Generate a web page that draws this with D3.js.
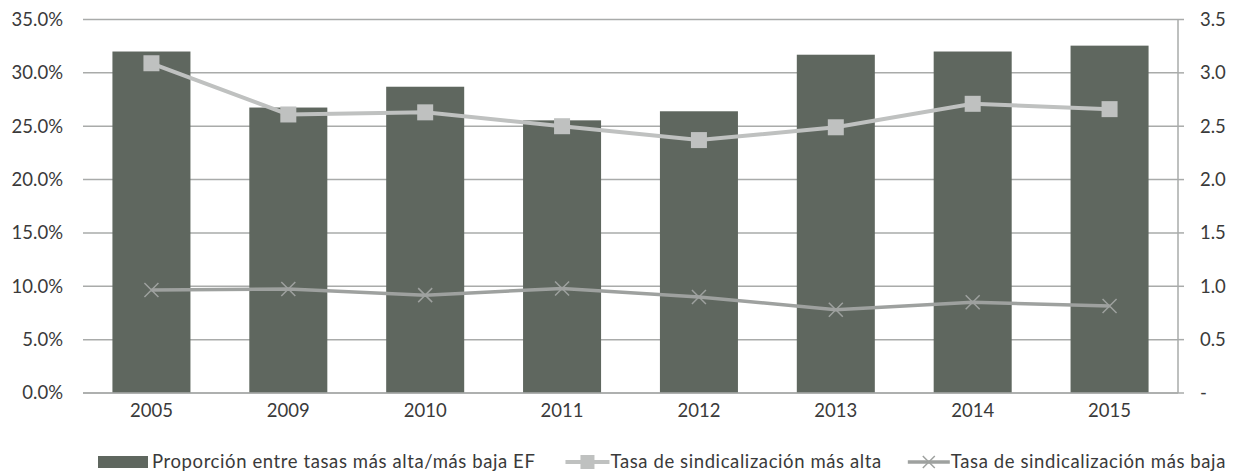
<!DOCTYPE html>
<meta charset="utf-8">
<script src="https://d3js.org/d3.v7.min.js"></script>
<style>
  body { margin: 0; background: #fff; }
  text { font-family: Lato, sans-serif; fill: #3a3a3a; font-size: 18.5px; }
  .legend text { letter-spacing: 0.6px; }
</style>
<div id="chart"></div>
<script>
// data
var years = ["2005", "2009", "2010", "2011", "2012", "2013", "2014", "2015"];
var proporcion = [32.0, 26.75, 28.7, 25.55, 26.4, 31.7, 32.0, 32.55];   // % (left axis)
var tasaAlta = [3.09, 2.61, 2.63, 2.50, 2.37, 2.49, 2.71, 2.66];        // right axis
var tasaBaja = [0.965, 0.975, 0.917, 0.98, 0.90, 0.78, 0.85, 0.815];    // right axis
var leftTicks = [0, 5, 10, 15, 20, 25, 30, 35];
var rightTicks = [0, 0.5, 1, 1.5, 2, 2.5, 3, 3.5];
var legendLabels = ["Proporción entre tasas más alta/más baja EF",
                    "Tasa de sindicalización más alta",
                    "Tasa de sindicalización más baja"];

var W = 1234, H = 475;
var margin = {top: 19.5, right: 56, bottom: 82, left: 83},
    width = W - margin.left - margin.right,
    height = H - margin.top - margin.bottom;

var barColor = "#5f675f", hiColor = "#bfc1c0", loColor = "#9ea19f", gridColor = "#a9abaa";

var root = d3.select("#chart").append("svg").attr("width", W).attr("height", H);
var svg = root.append("g")
    .attr("transform", "translate(" + margin.left + "," + margin.top + ")");

var x = d3.scaleBand().domain(years).range([0, width])
    .paddingInner(0.43).paddingOuter(0.215);
var y = d3.scaleLinear().domain([0, 35]).range([height, 0]);
var y2 = d3.scaleLinear().domain([0, 3.5]).range([height, 0]);
var cx = function(i) { return x(years[i]) + x.bandwidth() / 2; };

// gridlines
svg.append("g").selectAll("line").data(leftTicks).join("line")
    .attr("x1", 0).attr("x2", width)
    .attr("y1", d => y(d)).attr("y2", d => y(d))
    .attr("stroke", gridColor).attr("stroke-width", 1.5);

// left tick labels
svg.append("g").selectAll("text").data(leftTicks).join("text")
    .attr("x", -20).attr("y", d => y(d)).attr("dy", "0.35em")
    .attr("text-anchor", "end")
    .text(d => d.toFixed(1) + "%");

// bars
svg.append("g").selectAll("rect").data(proporcion).join("rect")
    .attr("x", (d, i) => x(years[i])).attr("width", x.bandwidth())
    .attr("y", d => y(d)).attr("height", d => height - y(d))
    .attr("fill", barColor);

// bottom axis line
svg.append("line").attr("x1", 0).attr("x2", width)
    .attr("y1", height).attr("y2", height)
    .attr("stroke", gridColor).attr("stroke-width", 1.5);

// x labels
svg.append("g").selectAll("text").data(years).join("text")
    .attr("x", (d, i) => cx(i)).attr("y", height + 18).attr("dy", "0.35em")
    .attr("text-anchor", "middle")
    .text(d => d);

// right axis
var ra = svg.append("g").attr("transform", "translate(" + width + ",0)");
ra.append("line").attr("y1", 0).attr("y2", height)
    .attr("stroke", gridColor).attr("stroke-width", 1.5);
ra.selectAll("line.t").data(rightTicks).join("line").attr("class", "t")
    .attr("x1", 0).attr("x2", 6).attr("y1", d => y2(d)).attr("y2", d => y2(d))
    .attr("stroke", gridColor).attr("stroke-width", 1.5);
ra.selectAll("text").data(rightTicks).join("text")
    .attr("x", 22).attr("y", d => y2(d)).attr("dy", "0.35em")
    .text(d => d === 0 ? "-" : d.toFixed(1));

// lines
var line = d3.line().x((d, i) => cx(i)).y(d => y2(d));
svg.append("path").datum(tasaBaja).attr("d", line)
    .attr("fill", "none").attr("stroke", loColor).attr("stroke-width", 3.5);
svg.append("path").datum(tasaAlta).attr("d", line)
    .attr("fill", "none").attr("stroke", hiColor).attr("stroke-width", 4);

svg.append("g").selectAll("rect").data(tasaAlta).join("rect")
    .attr("x", (d, i) => cx(i) - 8).attr("y", d => y2(d) - 8)
    .attr("width", 16).attr("height", 16).attr("fill", hiColor);

function cross(g, px, py, s) {
  g.append("path")
    .attr("d", "M" + (px - s) + "," + (py - s) + "L" + (px + s) + "," + (py + s) +
               "M" + (px - s) + "," + (py + s) + "L" + (px + s) + "," + (py - s))
    .attr("stroke", loColor).attr("stroke-width", 1.5).attr("fill", "none");
}
var xg = svg.append("g");
tasaBaja.forEach(function(d, i) { cross(xg, cx(i), y2(d), 7); });

// legend, laid out left to right
var lg = root.append("g").attr("class", "legend").attr("transform", "translate(0,462)");
var lx = 98;
lg.append("rect").attr("x", lx).attr("y", -6).attr("width", 50).attr("height", 12).attr("fill", barColor);
lx += 54;
var t1 = lg.append("text").attr("x", lx).attr("dy", "0.35em").text(legendLabels[0]);
lx += t1.node().getComputedTextLength() + 30;

lg.append("line").attr("x1", lx).attr("x2", lx + 44).attr("stroke", hiColor).attr("stroke-width", 4);
lg.append("rect").attr("x", lx + 15).attr("y", -7).attr("width", 14).attr("height", 14).attr("fill", hiColor);
lx += 45;
var t2 = lg.append("text").attr("x", lx).attr("dy", "0.35em").text(legendLabels[1]);
lx += t2.node().getComputedTextLength() + 26;

lg.append("line").attr("x1", lx).attr("x2", lx + 42).attr("stroke", loColor).attr("stroke-width", 3.5);
cross(lg, lx + 21, 0, 6);
lx += 43;
lg.append("text").attr("x", lx).attr("dy", "0.35em").text(legendLabels[2]);
</script>
